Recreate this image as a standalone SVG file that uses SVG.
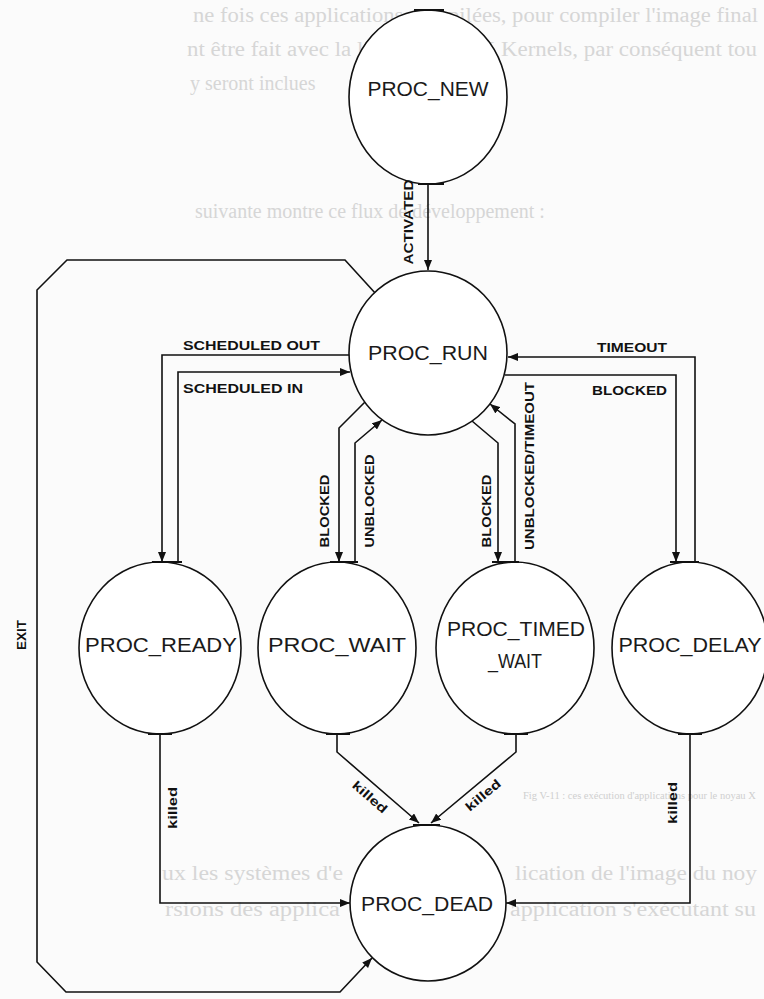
<svg xmlns="http://www.w3.org/2000/svg" width="764" height="999" viewBox="0 0 764 999">
  <defs>
    <marker id="arr" markerUnits="userSpaceOnUse" markerWidth="10" markerHeight="8" refX="10" refY="4" orient="auto">
      <path d="M0,0 L10,4 L0,8 z" fill="#111"/>
    </marker>
    <style>
      .ghost{font-family:"Liberation Serif","Times New Roman",serif;font-size:20px;fill:#d6d6d6}
      .ghost-s{font-family:"Liberation Serif","Times New Roman",serif;font-size:10.5px;fill:#cfcfcf}
      .node ellipse{fill:#fff;stroke:#111;stroke-width:1.6}
      .node text{font-family:"Liberation Sans",Arial,sans-serif;font-size:20px;fill:#1a1a1a;text-anchor:middle}
      .port{stroke:#111;stroke-width:2}
      .conn path{fill:none;stroke:#111;stroke-width:1.6}
      .lbl{font-family:"Liberation Sans",Arial,sans-serif;font-size:12.5px;font-weight:bold;fill:#111}
      .vlbl{text-anchor:middle}
    </style>
  </defs>
  <rect width="764" height="999" fill="#fbfbfb"/>

  <g id="ghost-text">
    <text class="ghost" x="193" y="22" textLength="565" lengthAdjust="spacingAndGlyphs">ne fois ces applications compilées, pour compiler l'image final</text>
    <text class="ghost" x="187" y="56" textLength="570" lengthAdjust="spacingAndGlyphs">nt être fait avec la librairie LinuX Kernels, par conséquent tou</text>
    <text class="ghost" x="190" y="90">y seront inclues</text>
    <text class="ghost" x="195" y="218">suivante montre ce flux de développement :</text>
    <text class="ghost-s" x="523" y="799">Fig V-11 : ces exécution d'applications pour le noyau X</text>
    <text class="ghost" x="162" y="880" textLength="181" lengthAdjust="spacingAndGlyphs">ux les systèmes d'e</text>
    <text class="ghost" x="515" y="880" textLength="242" lengthAdjust="spacingAndGlyphs">lication de l'image du noy</text>
    <text class="ghost" x="165" y="916" textLength="175" lengthAdjust="spacingAndGlyphs">rsions des applica</text>
    <text class="ghost" x="510" y="916" textLength="246" lengthAdjust="spacingAndGlyphs">application s'exécutant su</text>
  </g>

  <g id="connectors" class="conn">
    <path id="c-activated" d="M428,184 V270" marker-end="url(#arr)"/>
    <path id="c-exit" d="M376,294 L345,260 H67 L37,290 V962 L66,992 H340 L372,958" marker-end="url(#arr)"/>
    <path id="c-sched-out" d="M350,355 H162 V562" marker-end="url(#arr)"/>
    <path id="c-sched-in" d="M178,562 V372 H350" marker-end="url(#arr)"/>
    <path id="c-timeout" d="M695,562 V357 H508" marker-end="url(#arr)"/>
    <path id="c-blocked-delay" d="M505,375 H676 V562" marker-end="url(#arr)"/>
    <path id="c-blocked-wait" d="M365,402 L339,428 V562" marker-end="url(#arr)"/>
    <path id="c-unblocked" d="M355,562 V443 L382,420" marker-end="url(#arr)"/>
    <path id="c-blocked-timed" d="M472,421 L498,443 V562" marker-end="url(#arr)"/>
    <path id="c-unblocked-timeout" d="M515,562 V424 L490,404" marker-end="url(#arr)"/>
    <path id="c-killed-ready" d="M160,734 V903 H350" marker-end="url(#arr)"/>
    <path id="c-killed-wait" d="M337,734 V752 L419,823" marker-end="url(#arr)"/>
    <path id="c-killed-timed" d="M516,734 V752 L431,823" marker-end="url(#arr)"/>
    <path id="c-killed-delay" d="M690,734 V903 H506" marker-end="url(#arr)"/>
  </g>

  <g id="node-proc-new" class="node">
    <ellipse cx="428" cy="97" rx="79" ry="87"/>
    <path class="port" d="M414,10 H444 M418,184 H444"/>
    <text x="428" y="96" textLength="121" lengthAdjust="spacingAndGlyphs">PROC_NEW</text>
  </g>
  <g id="node-proc-run" class="node">
    <ellipse cx="428" cy="353" rx="79" ry="82"/>
    <text x="428" y="360" textLength="120" lengthAdjust="spacingAndGlyphs">PROC_RUN</text>
  </g>
  <g id="node-proc-ready" class="node">
    <ellipse cx="160" cy="648" rx="81" ry="86"/>
    <path class="port" d="M152,562 H182 M148,734 H172"/>
    <text x="161" y="652" textLength="152" lengthAdjust="spacingAndGlyphs">PROC_READY</text>
  </g>
  <g id="node-proc-wait" class="node">
    <ellipse cx="337" cy="648" rx="79" ry="86"/>
    <path class="port" d="M330,562 H358 M326,734 H350"/>
    <text x="337" y="652" textLength="138" lengthAdjust="spacingAndGlyphs">PROC_WAIT</text>
  </g>
  <g id="node-proc-timed-wait" class="node">
    <ellipse cx="515" cy="648" rx="79" ry="86"/>
    <path class="port" d="M492,562 H519 M504,734 H528"/>
    <text x="516" y="636" textLength="138" lengthAdjust="spacingAndGlyphs">PROC_TIMED</text>
    <text x="515" y="668" textLength="54" lengthAdjust="spacingAndGlyphs">_WAIT</text>
  </g>
  <g id="node-proc-delay" class="node">
    <ellipse cx="690" cy="648" rx="78" ry="86"/>
    <path class="port" d="M670,562 H699 M678,734 H702"/>
    <text x="690" y="652" textLength="143" lengthAdjust="spacingAndGlyphs">PROC_DELAY</text>
  </g>
  <g id="node-proc-dead" class="node">
    <ellipse cx="428" cy="903" rx="78" ry="78"/>
    <path class="port" d="M413,825 H440"/>
    <text x="427" y="911" textLength="132" lengthAdjust="spacingAndGlyphs">PROC_DEAD</text>
  </g>

  <g id="labels">
    <text class="lbl vlbl" transform="translate(408,222) rotate(-90)" y="4.5" textLength="85" lengthAdjust="spacingAndGlyphs">ACTIVATED</text>
    <text class="lbl" x="183" y="350" textLength="137" lengthAdjust="spacingAndGlyphs">SCHEDULED OUT</text>
    <text class="lbl" x="183" y="393" textLength="120" lengthAdjust="spacingAndGlyphs">SCHEDULED IN</text>
    <text class="lbl" x="597" y="352" textLength="70" lengthAdjust="spacingAndGlyphs">TIMEOUT</text>
    <text class="lbl" x="592" y="395" textLength="75" lengthAdjust="spacingAndGlyphs">BLOCKED</text>
    <text class="lbl vlbl" transform="translate(324,511) rotate(-90)" y="4.5" textLength="73" lengthAdjust="spacingAndGlyphs">BLOCKED</text>
    <text class="lbl vlbl" transform="translate(369,501) rotate(-90)" y="4.5" textLength="93" lengthAdjust="spacingAndGlyphs">UNBLOCKED</text>
    <text class="lbl vlbl" transform="translate(486,511) rotate(-90)" y="4.5" textLength="73" lengthAdjust="spacingAndGlyphs">BLOCKED</text>
    <text class="lbl vlbl" transform="translate(529,466) rotate(-90)" y="4.5" textLength="168" lengthAdjust="spacingAndGlyphs">UNBLOCKED/TIMEOUT</text>
    <text class="lbl vlbl" transform="translate(21,635) rotate(-90)" y="4.5" textLength="30" lengthAdjust="spacingAndGlyphs">EXIT</text>
    <text class="lbl vlbl" transform="translate(172,808) rotate(-90)" y="4.5" textLength="42" lengthAdjust="spacingAndGlyphs">killed</text>
    <text class="lbl vlbl" transform="translate(672,803) rotate(-90)" y="4.5" textLength="42" lengthAdjust="spacingAndGlyphs">killed</text>
    <text class="lbl vlbl" transform="translate(370,797) rotate(41)" y="4.5" textLength="42" lengthAdjust="spacingAndGlyphs">killed</text>
    <text class="lbl vlbl" transform="translate(483,795) rotate(-40)" y="4.5" textLength="42" lengthAdjust="spacingAndGlyphs">killed</text>
  </g>
</svg>
